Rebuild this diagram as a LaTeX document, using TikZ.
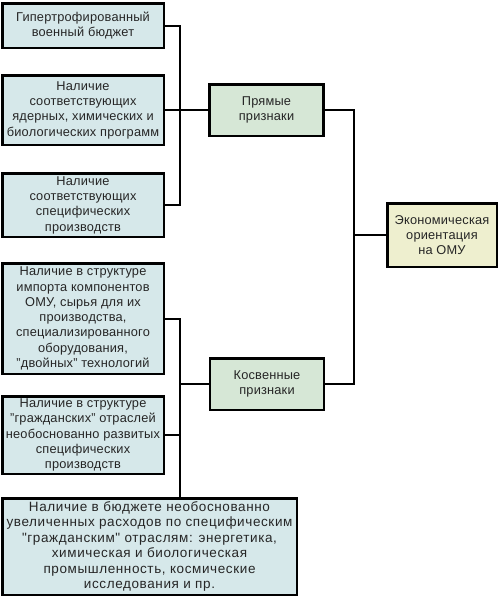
\documentclass[tikz,border=0pt]{standalone}
\usepackage{fontspec}
\setmainfont[LetterSpace=1.5]{Liberation Sans}
\newfontfamily\widefont[LetterSpace=4.5]{Liberation Sans}
\definecolor{bluebox}{HTML}{D6E8EA}
\definecolor{greenbox}{HTML}{D6E7D6}
\definecolor{yellowbox}{HTML}{EEEFCF}
\begin{document}
\begin{tikzpicture}[x=1pt,y=-1pt,
  box/.style={draw=black, line width=2.5pt, align=center, inner sep=0pt,
    font=\fontsize{12.8}{15.3}\selectfont, text=black!85},
  leftbox/.style={box, fill=bluebox, minimum width=161.5pt},
  midbox/.style={box, fill=greenbox, minimum width=114pt, minimum height=51.5pt},
  conn/.style={line width=2pt}]
\useasboundingbox (0,0) rectangle (500,597);
\node[leftbox, minimum height=44.5pt] (B1) at (83,25.5) {Гипертрофированный\\военный бюджет};
\node[leftbox, minimum height=69.5pt] (B2) at (83,110) {Наличие\\соответствующих\\ядерных, химических и\\биологических программ};
\node[leftbox, minimum height=63.5pt] (B3) at (83,205) {Наличие\\соответствующих\\специфических\\производств};
\node[leftbox, minimum height=110.5pt] (B4) at (83,318.5) {Наличие в структуре\\импорта компонентов\\ОМУ, сырья для их\\производства,\\специализированного\\оборудования,\\"двойных" технологий};
\node[leftbox, minimum height=77.5pt] (B5) at (83,435) {Наличие в структуре\\"гражданских" отраслей\\необоснованно развитых\\специфических\\производств};
\node[box, fill=bluebox, minimum width=294.5pt, minimum height=96.5pt,
  font=\widefont\fontsize{13.5}{15.5}\selectfont] (B6) at (149.5,546.5) {Наличие в бюджете необоснованно\\увеличенных расходов по специфическим\\"гражданским" отраслям: энергетика,\\химическая и биологическая\\промышленность, космические\\исследования и пр.};
\node[midbox] (P) at (266.5,110) {Прямые\\признаки};
\node[midbox] (K) at (267,384) {Косвенные\\признаки};
\node[box, fill=yellowbox, minimum width=109.5pt, minimum height=63.5pt] (E) at (442,235) {Экономическая\\ориентация\\на ОМУ};
\coordinate (jU) at (180,110);
\coordinate (jL) at (180,384);
\coordinate (jR) at (354,235);
\draw[conn] (B1.east) -| (jU) |- (B3.east);
\draw[conn] (B2.east) -- (P.west);
\draw[conn] (B4.east) -| (jL) -- (K.west);
\draw[conn] (B5.east) -- (B5.east -| jL);
\draw[conn] (jL) -- (jL |- B6.north);
\draw[conn] (P.east) -| (jR) |- (K.east);
\draw[conn] (jR) -- (E.west);
\end{tikzpicture}
\end{document}
